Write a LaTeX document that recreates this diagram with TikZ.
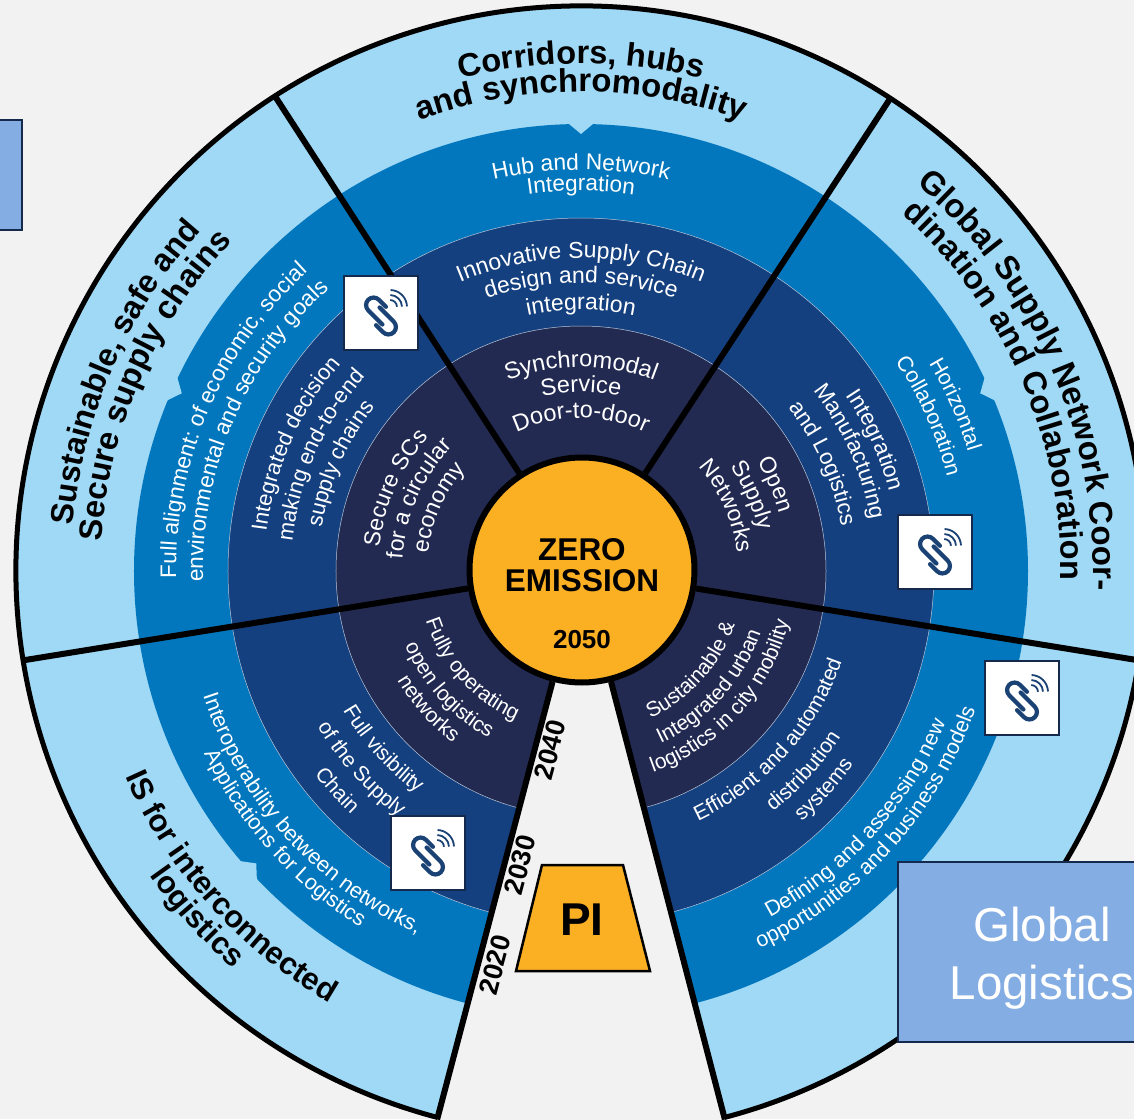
\documentclass[tikz,border=0pt]{standalone}
\usepackage{fontspec}
\setmainfont{Liberation Sans}
\usetikzlibrary{decorations.text}
\definecolor{pagegrey}{HTML}{F2F2F2}
\definecolor{ringsky}{HTML}{9FD9F5}
\definecolor{ringblue}{HTML}{0277BD}
\definecolor{ringnavy}{HTML}{14407F}
\definecolor{ringdark}{HTML}{222A52}
\definecolor{zeroorange}{HTML}{FBB024}
\definecolor{boxblue}{HTML}{84ADE3}
\definecolor{boxline}{HTML}{14294B}
\definecolor{linkblue}{HTML}{1B4274}
\newcommand{\cwlabel}[5]{%
  \path[decorate,decoration={text along path,text align=center,
    text={|\color{#3}\fontsize{#4}{#4}\selectfont|#5}}]
    (#2+65:#1) arc[start angle=#2+65,end angle=#2-65,radius=#1];}
\newcommand{\ccwlabel}[5]{%
  \path[decorate,decoration={text along path,text align=center,
    text={|\color{#3}\fontsize{#4}{#4}\selectfont|#5}}]
    (#2-65:#1) arc[start angle=#2-65,end angle=#2+65,radius=#1];}
\newcommand{\boldcw}[4]{%
  \path[decorate,decoration={text along path,text align=center,
    text={|\color{black}\bfseries\fontsize{#3}{#3}\selectfont|#4}}]
    (#2+65:#1) arc[start angle=#2+65,end angle=#2-65,radius=#1];}
\newcommand{\boldccw}[4]{%
  \path[decorate,decoration={text along path,text align=center,
    text={|\color{black}\bfseries\fontsize{#3}{#3}\selectfont|#4}}]
    (#2-65:#1) arc[start angle=#2-65,end angle=#2+65,radius=#1];}
\tikzset{
  iconbox/.style={draw=boxline,line width=1.8pt,fill=white,minimum size=74pt,inner sep=0pt},
  bluebox/.style={draw=boxline,line width=2pt,fill=boxblue,inner sep=0pt},
  yearlabel/.style={font=\bfseries\fontsize{27}{27}\selectfont,rotate=75},
  spoke/.style={line width=6pt},
  ringline/.style={draw=white!70!ringnavy,line width=.5pt},
  linkicon/.pic={
    \begin{scope}[yshift=-3pt,rotate=-45,linkblue,line width=4.2pt,line cap=round]
      \draw (-3,10) -- (-13,10) arc[start angle=90,end angle=270,radius=7.5] -- (7,-5);
      \draw (3,-10) -- (13,-10) arc[start angle=-90,end angle=90,radius=7.5] -- (-7,5);
    \end{scope}
    \begin{scope}[linkblue,line width=1.8pt]
      \foreach \r in {7,12,17}
        \draw (9,6)++(88:\r) arc[start angle=88,end angle=2,radius=\r];
    \end{scope}
  }
}
\begin{document}
\begin{tikzpicture}[x=1pt,y=1pt]
  \useasboundingbox[fill=pagegrey] (-581,-548) rectangle (553,571);
  \fill[ringsky] (0,0) circle[radius=565];
  \fill[ringblue] (0,0) circle[radius=447];
  \fill[ringnavy] (0,0) circle[radius=353];
  \fill[ringdark] (0,0) circle[radius=245];
  \draw[ringline] (0,0) circle[radius=353];
  \draw[ringline] (0,0) circle[radius=245];
  \foreach \a in {90,156,24,222}
    \fill[ringsky] (\a:437) -- (\a+1.8:449) -- (\a-1.8:449) -- cycle;
  \fill[pagegrey] (0,0) -- (255.3:600) -- (284.7:600) -- cycle;
  \draw[line width=5pt] (284.7:565) arc[start angle=-75.3,end angle=255.3,radius=565];
  \node[circle,draw,line width=6pt,fill=zeroorange,minimum size=225pt,inner sep=0pt] (zero) at (1,1) {};
  \node[font=\bfseries\fontsize{31.5}{32}\selectfont,align=center] (zerotext) at (1,6) {ZERO\\[-1pt]EMISSION};
  \node[font=\bfseries\fontsize{26}{26}\selectfont] (zeroyear) at (1,-69) {2050};
  \coordinate (spokeA) at (122.8:565);
  \coordinate (spokeB) at (56.8:565);
  \coordinate (spokeC) at (189.1:565);
  \coordinate (spokeD) at (-9.1:565);
  \coordinate (wedgeL) at (255.3:567);
  \coordinate (wedgeR) at (284.7:567);
  \draw[spoke] (zero) -- (spokeA);
  \draw[spoke] (zero) -- (spokeB);
  \draw[spoke] (zero) -- (spokeC);
  \draw[spoke] (zero) -- (spokeD);
  \draw[spoke] (zero) -- (wedgeL);
  \draw[spoke] (zero) -- (wedgeR);
  \boldcw{507}{90}{32.5}{Corridors, hubs}
  \boldcw{479}{90}{32.8}{and synchromodality}
  \boldcw{510}{156.5}{32}{Sustainable, safe and}
  \boldcw{480}{156.5}{32.5}{Secure supply chains}
  \boldcw{512}{23.5}{33}{Global Supply Network Coor-}
  \boldcw{480}{23.5}{32.5}{dination and Collaboration}
  \boldccw{500}{222}{31}{IS for interconnected}
  \boldccw{528}{222}{31}{logistics}
  \cwlabel{401}{90}{white}{22.8}{Hub and Network}
  \cwlabel{380}{90}{white}{22.5}{Integration}
  \cwlabel{313}{90}{white}{23}{Innovative Supply Chain}
  \cwlabel{288}{90}{white}{23}{design and service}
  \cwlabel{261}{90}{white}{23}{integration}
  \cwlabel{204}{90}{white}{23.5}{Synchromodal}
  \cwlabel{179}{90}{white}{23.5}{Service}
  \cwlabel{153}{90}{white}{23.5}{Door-to-door}
  \cwlabel{405}{156.7}{white}{22.5}{Full alignment: of economic, social}
  \cwlabel{378}{156.7}{white}{22.5}{environmental and security goals}
  \cwlabel{317}{156}{white}{22}{Integrated decision}
  \cwlabel{290}{156}{white}{22}{making end-to-end}
  \cwlabel{263}{156}{white}{22}{supply chains}
  \cwlabel{203}{156}{white}{23}{Secure SCs}
  \cwlabel{179}{156}{white}{23}{for a circular}
  \cwlabel{154}{156}{white}{23}{economy}
  \cwlabel{405}{24}{white}{21.5}{Horizontal}
  \cwlabel{378}{24}{white}{21.5}{Collaboration}
  \cwlabel{318}{24}{white}{22.5}{Integration}
  \cwlabel{294}{24}{white}{22.5}{Manufacturing}
  \cwlabel{264}{24}{white}{22.5}{and Logistics}
  \cwlabel{207}{24}{white}{23}{Open}
  \cwlabel{182}{24}{white}{23}{Supply}
  \cwlabel{157}{24}{white}{23}{Networks}
  \ccwlabel{163}{222}{white}{21}{Fully operating}
  \ccwlabel{191}{222}{white}{21}{open logistics}
  \ccwlabel{214}{222}{white}{21}{networks}
  \ccwlabel{276}{222}{white}{21}{Full visibility}
  \ccwlabel{306}{222}{white}{21}{of the Supply}
  \ccwlabel{335}{222}{white}{21}{Chain}
  \ccwlabel{398}{222}{white}{21.7}{Interoperability between networks,}
  \ccwlabel{419}{222}{white}{21.5}{Applications for Logistics}
  \ccwlabel{163}{318}{white}{21}{Sustainable {\&}}
  \ccwlabel{190}{318}{white}{21}{Integrated urban}
  \ccwlabel{214}{318}{white}{21}{logistics in city mobility}
  \ccwlabel{276}{318}{white}{21}{Efficient and automated}
  \ccwlabel{308}{318}{white}{21}{distribution}
  \ccwlabel{334}{318}{white}{21}{systems}
  \ccwlabel{395}{318}{white}{21.5}{Defining and assessing new}
  \ccwlabel{418}{318}{white}{21.5}{opportunities and business models}
  \node[yearlabel] (y2040) at (-31,-179) {2040};
  \node[yearlabel] (y2030) at (-61,-294) {2030};
  \node[yearlabel] (y2020) at (-86,-394) {2020};
  \draw[line width=2.5pt,fill=zeroorange,line join=miter] (-39,-294) -- (42,-294) -- (69,-400) -- (-65,-400) -- cycle;
  \node[font=\bfseries\fontsize{46}{46}\selectfont] (pi) at (1,-349) {PI};
  \node[iconbox] (linkA) at (-200,258) {};
  \node[iconbox] (linkB) at (354,19) {};
  \node[iconbox] (linkC) at (441,-127) {};
  \node[iconbox] (linkD) at (-153,-282) {};
  \foreach \n in {linkA,linkB,linkC,linkD}
    \pic at (\n) {linkicon};
  \node[bluebox,minimum width=260pt,minimum height=180pt,anchor=north west] (globalbox) at (316,-290) {};
  \node[text=white,font=\fontsize{47.5}{58}\selectfont,align=center] (globaltext) at (461,-387) {Global\\Logistics};
  \node[bluebox,minimum width=60pt,minimum height=110pt,anchor=north east] (leftbox) at (-558,452) {};
\end{tikzpicture}
\end{document}
